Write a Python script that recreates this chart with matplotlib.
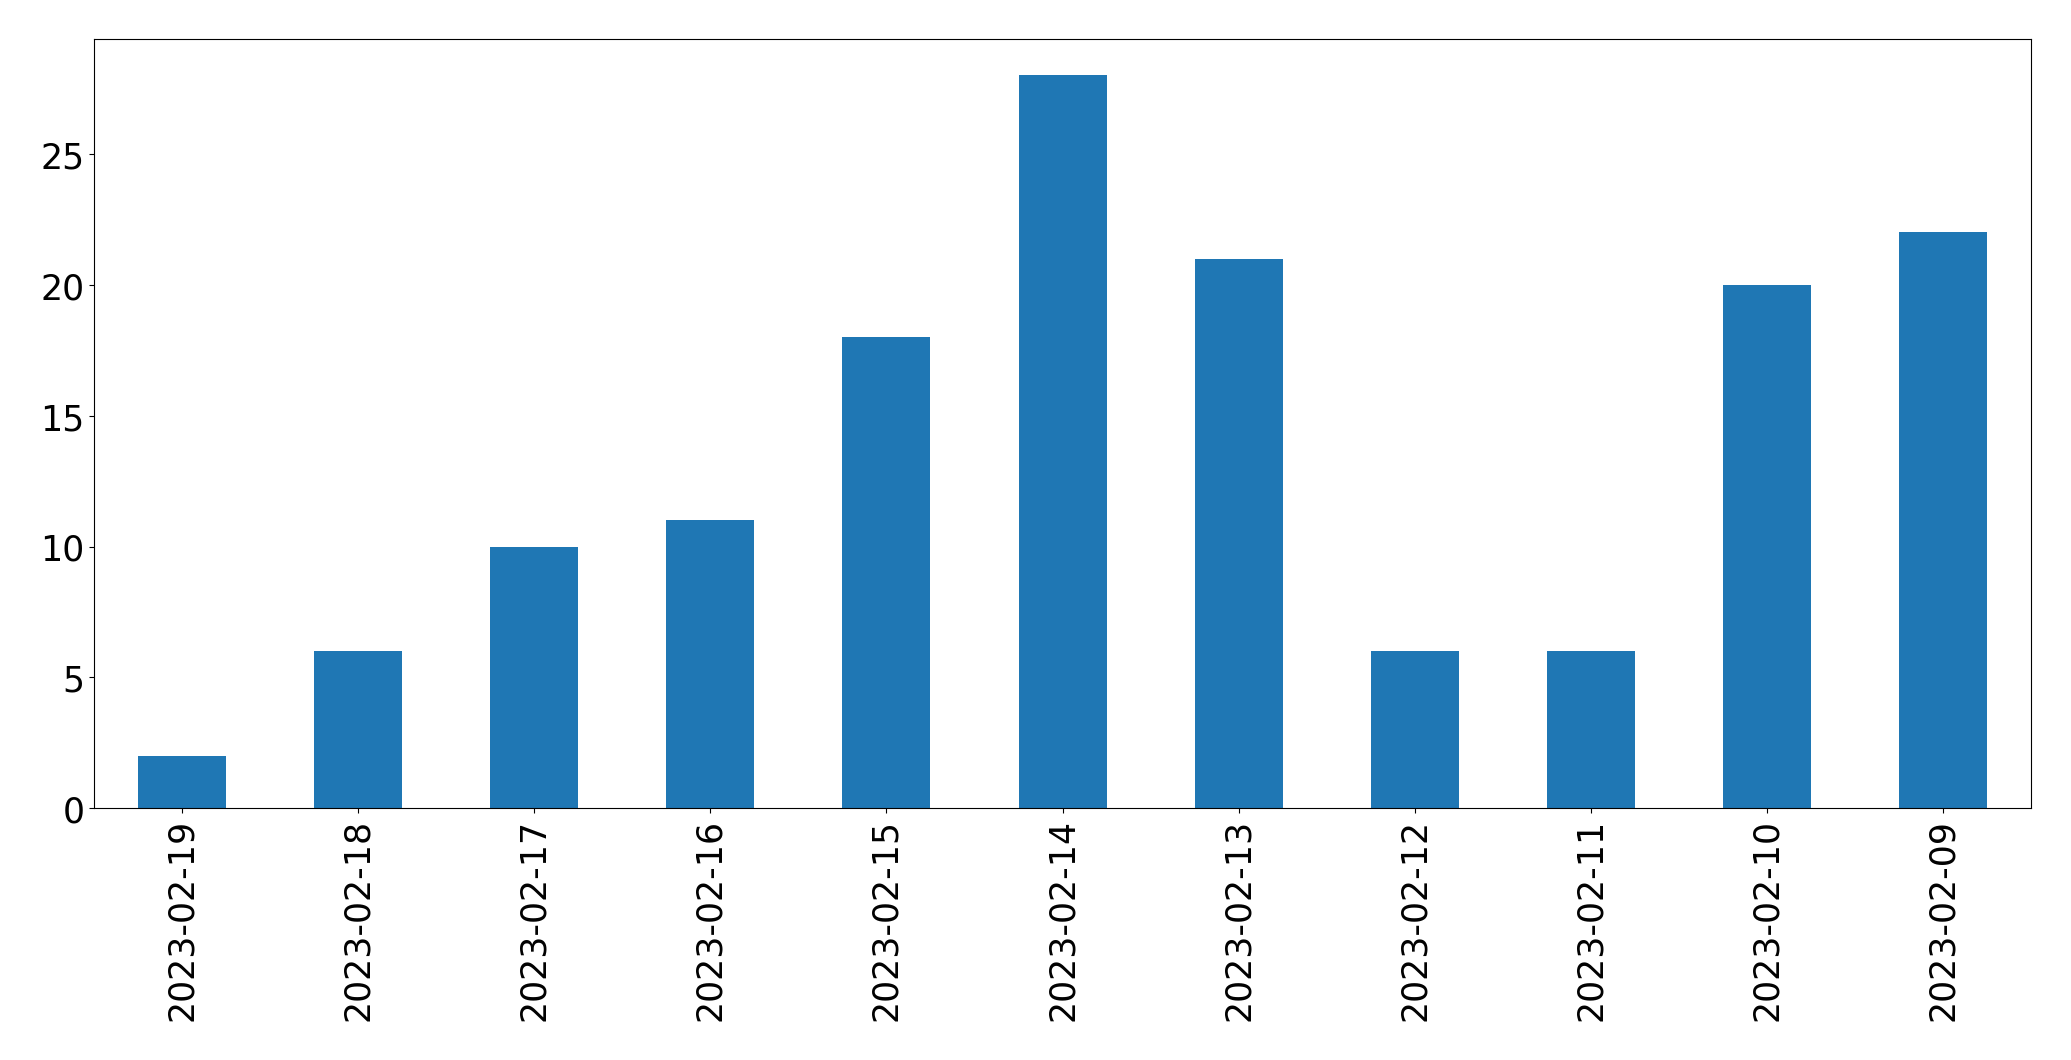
import matplotlib
matplotlib.use("Agg")
import matplotlib.pyplot as plt
import pandas as pd

dates = ["2023-02-19", "2023-02-18", "2023-02-17", "2023-02-16", "2023-02-15",
         "2023-02-14", "2023-02-13", "2023-02-12", "2023-02-11", "2023-02-10",
         "2023-02-09"]
counts = [2, 6, 10, 11, 18, 28, 21, 6, 6, 20, 22]

s = pd.Series(counts, index=dates)
fig = plt.figure(figsize=(20.71, 10.6095), dpi=100)
ax = fig.add_axes([0.0454, 0.2373, 0.9353, 0.7252])
s.plot.bar(ax=ax, color="#1f77b4", width=0.5)
ax.tick_params(labelsize=25)
fig.savefig("out.png", dpi=100)
